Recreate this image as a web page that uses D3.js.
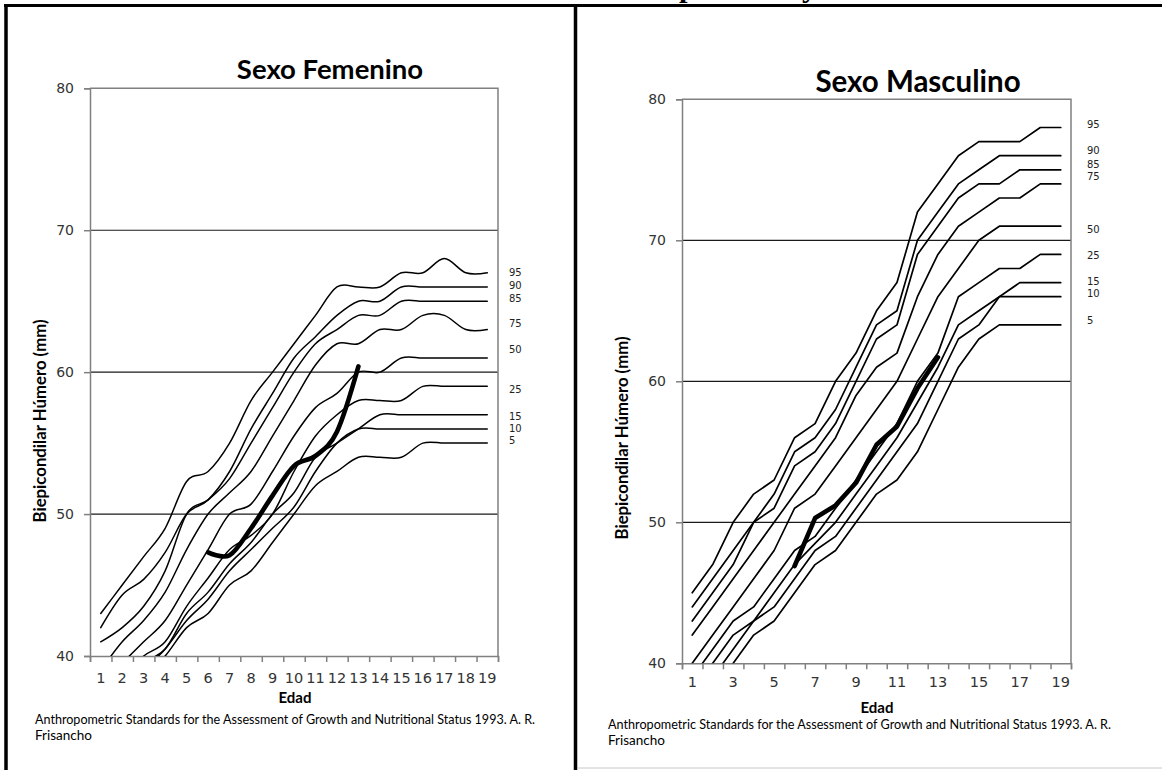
<!DOCTYPE html>
<html>
<head>
<meta charset="utf-8">
<script src="https://cdn.jsdelivr.net/npm/d3@7/dist/d3.min.js"></script>
<style>
html,body{margin:0;padding:0;background:#fff;}
svg{display:block;}
</style>
</head>
<body>
<svg id="chart" width="1162" height="770"></svg>
<script>
// ---------------- DATA ----------------
const ages = [1,2,3,4,5,6,7,8,9,10,11,12,13,14,15,16,17,18,19];
const childAges = [6,7,8,9,10,11,12,13];
const percentileNames = ["95","90","85","75","50","25","15","10","5"];
const yTicks = [40,50,60,70,80];

// Sexo Femenino (mm)
const femP95 = [43,45,47,49,52.3,53,55,58,60,62,64,66,66,66,67,67,68,67,67];
const femP90 = [42,44.3,45.4,47.3,50,51,53,56,58.5,61,62.5,64,65,65,66,66,66,66,66];
const femP85 = [41,42,43.5,46,50,51,52.5,55,57.5,60,62,63,64,64,65,65,65,65,65];
const femP75 = [39,41,42.5,44.5,47.5,50,51.5,53,55.5,58,60.5,62,62,63,63,64,64,63,63];
const femP50 = [38,39.5,41,42.5,45,47.5,50,50.7,53,55.5,57.5,58.5,60,60,61,61,61,61,61];
const femP25 = [37,38.5,40,41,43.5,45.5,47.5,48.5,50,53,55.5,57,58,58,58,59,59,59,59];
const femP15 = [36.5,38,39.5,40.5,43,44.5,46.5,48,50,51.5,54,55,56,57,57,57,57,57,57];
const femP10 = [36,37.5,39,40.5,42.5,44,46,47.5,49,50.5,53,55,56,56,56,56,56,56,56];
const femP5  = [35,36.5,38.5,40,42,43,45,46,48,50,52,53,54,54,54,55,55,55,55];
const femChild = [47.3,47.1,49,51.3,53.4,54.1,55.8,60.4];
const femLabelAt = [67.0,66.1,65.2,63.4,61.6,58.8,56.9,56.0,55.2];

// Sexo Masculino (mm)
const masP95 = [45,47,50,52,53,56,57,60,62,65,67,72,74,76,77,77,77,78,78];
const masP90 = [44,46,48,50,52,55,56,58,61,64,65,70,72,74,75,76,76,76,76];
const masP85 = [43,45,47,50,51,54,55,57,60,63,64,69,71,73,74,74,75,75,75];
const masP75 = [42,44,46,48,50,52,54,56,59,61,62,66,69,71,72,73,73,74,74];
const masP50 = [40,42,44,46,48,51,52,54,56,58,60,63,66,68,70,71,71,71,71];
const masP25 = [39,41,43,44,46,48,49,51,53,55,57,60,62,66,67,68,68,69,69];
const masP15 = [38,40,42,43,45,47,48.5,50,52,54,56,58.5,61,64,65,66,67,67,67];
const masP10 = [37,39,41,43,44,46,48,49,51,53,55,57,60,63,64,66,66,66,66];
const masP5  = [36,38,40,42,43,45,47,48,50,52,53,55,58,61,63,64,64,64,64];
const masChild = [46.9,50.3,51.2,52.8,55.5,56.8,59.5,61.7];
const masLabelAt = [78.2,76.4,75.4,74.5,70.8,68.9,67.1,66.2,64.3];

const femSeries = [femP95,femP90,femP85,femP75,femP50,femP25,femP15,femP10,femP5];
const masSeries = [masP95,masP90,masP85,masP75,masP50,masP25,masP15,masP10,masP5];

const sourceLine1 = "Anthropometric Standards for the Assessment of Growth and Nutritional Status 1993. A. R.";
const sourceLine2 = "Frisancho";
const yTitle = "Biepicondilar Húmero (mm)";
const xTitle = "Edad";
const headerText = "Valores de referencia por edad y sexo";

// ---------------- DRAWING ----------------
const svg = d3.select("#chart");
const SANS = "Lato, 'Open Sans', sans-serif";
const TICKF = "'DejaVu Sans', Verdana, sans-serif";

function drawPanel(cfg) {
  const g = svg.append("g");
  const x = d3.scaleBand().domain(ages).range([cfg.left, cfg.right]);
  const xEdge = d3.scaleLinear().domain([0.5, 19.5]).range([cfg.left, cfg.right]);
  const y = d3.scaleLinear().domain([40, 80]).range([cfg.bottom, cfg.top]);
  const cx = a => x(a) + x.bandwidth() / 2;

  const clipId = "clip-" + cfg.id;
  g.append("clipPath").attr("id", clipId).append("rect")
    .attr("x", cfg.left).attr("y", cfg.top).attr("width", cfg.right - cfg.left).attr("height", cfg.bottom - cfg.top);

  // gridlines
  g.append("g").selectAll("line").data(yTicks.filter(t => t > 40 && t < 80)).join("line")
    .attr("x1", cfg.left).attr("x2", cfg.right)
    .attr("y1", d => y(d)).attr("y2", d => y(d))
    .attr("stroke", "#1a1a1a").attr("stroke-width", 1.2);

  // plot area border (top + right)
  g.append("path")
    .attr("d", `M${cfg.left},${y(80)}H${cfg.right}V${y(40)}`)
    .attr("fill", "none").attr("stroke", "#808080").attr("stroke-width", 1.5);

  // y axis
  const ya = g.append("g").attr("transform", `translate(${cfg.left},0)`)
    .call(d3.axisLeft(y).tickValues(yTicks).tickSize(6).tickPadding(10));
  ya.select(".domain").attr("stroke", "#808080").attr("stroke-width", 1.5);
  ya.selectAll(".tick line").attr("stroke", "#808080").attr("stroke-width", 1.5);
  ya.selectAll(".tick text").attr("font-family", TICKF).attr("font-size", 14).attr("fill", "#333");

  // x axis: tick marks at category edges
  const edges = ages.map(a => a - 0.5).concat([19.5]);
  const xa = g.append("g").attr("transform", `translate(0,${cfg.bottom})`)
    .call(d3.axisBottom(xEdge).tickValues(edges).tickSize(6).tickFormat(""));
  xa.select(".domain").attr("stroke", "#808080").attr("stroke-width", 1.5);
  xa.selectAll(".tick line").attr("stroke", "#808080").attr("stroke-width", 1.5);

  // x labels (centered in categories)
  const xl = g.append("g").attr("transform", `translate(0,${cfg.bottom})`)
    .call(d3.axisBottom(x).tickSize(0).tickPadding(cfg.xLabelPad)
      .tickFormat(d => cfg.showX(d) ? d : ""));
  xl.select(".domain").remove();
  xl.selectAll(".tick text").attr("font-family", TICKF).attr("font-size", 14.5).attr("fill", "#333");

  // percentile curves
  const line = d3.line().x(d => cx(d.a)).y(d => y(d.v)).curve(cfg.curve);
  const lines = g.append("g").attr("clip-path", `url(#${clipId})`);
  lines.selectAll("path.p").data(cfg.series).join("path")
    .attr("class", "p")
    .attr("d", s => line(s.map((v, i) => ({a: ages[i], v}))))
    .attr("fill", "none").attr("stroke", "#000").attr("stroke-width", cfg.thin)
    .attr("stroke-linejoin", "round").attr("stroke-linecap", "round");

  // child curve
  lines.append("path")
    .attr("d", line(cfg.child.map((v, i) => ({a: childAges[i], v}))))
    .attr("fill", "none").attr("stroke", "#000").attr("stroke-width", 4.6)
    .attr("stroke-linejoin", "round").attr("stroke-linecap", "round");

  // percentile labels
  g.append("g").selectAll("text").data(percentileNames).join("text")
    .attr("x", cfg.labelX).attr("y", (d, i) => y(cfg.labelAt[i])).attr("dy", "0.35em")
    .attr("font-family", TICKF).attr("font-size", 10).attr("fill", "#222")
    .text(d => d);

  // titles
  g.append("text").attr("x", cfg.titleX).attr("y", cfg.titleY).attr("text-anchor", "middle")
    .attr("font-family", SANS).attr("font-weight", 700).attr("font-size", cfg.titleSize).attr("fill", "#000")
    .text(cfg.title);
  g.append("text").attr("x", cfg.xTitleX).attr("y", cfg.xTitleY).attr("text-anchor", "middle")
    .attr("font-family", SANS).attr("font-weight", 700).attr("font-size", 15).attr("fill", "#000")
    .text(xTitle);
  g.append("text").attr("transform", `translate(${cfg.yTitleX},${cfg.yTitleY}) rotate(-90)`)
    .attr("text-anchor", "middle").attr("dy", "0.35em")
    .attr("font-family", SANS).attr("font-weight", 700).attr("font-size", 16.5).attr("fill", "#000")
    .attr("textLength", 203).attr("lengthAdjust", "spacingAndGlyphs")
    .text(yTitle);
  // source
  g.append("text").attr("x", cfg.srcX).attr("y", cfg.srcY)
    .attr("font-family", SANS).attr("font-size", 13.5).attr("fill", "#000")
    .attr("textLength", cfg.srcW).attr("lengthAdjust", "spacingAndGlyphs")
    .text(sourceLine1);
  g.append("text").attr("x", cfg.srcX).attr("y", cfg.srcY + 16)
    .attr("font-family", SANS).attr("font-size", 13.5).attr("fill", "#000")
    .text(sourceLine2);
}

drawPanel({
  id: "fem", left: 90, right: 498, top: 88.3, bottom: 656,
  series: femSeries, child: femChild, labelAt: femLabelAt, labelX: 509,
  curve: d3.curveCardinal.tension(0), thin: 1.5,
  showX: d => true, xLabelPad: 17,
  title: "Sexo Femenino", titleX: 330, titleY: 79, titleSize: 27.5,
  xTitleX: 295, xTitleY: 703, yTitleX: 40, yTitleY: 421,
  srcX: 35, srcY: 724, srcW: 500
});

drawPanel({
  id: "mas", left: 682, right: 1071, top: 99.3, bottom: 663.3,
  series: masSeries, child: masChild, labelAt: masLabelAt, labelX: 1087,
  curve: d3.curveLinear, thin: 1.7,
  showX: d => d % 2 === 1, xLabelPad: 13,
  title: "Sexo Masculino", titleX: 918, titleY: 92, titleSize: 29.5,
  xTitleX: 877, xTitleY: 713, yTitleX: 622, yTitleY: 438,
  srcX: 608, srcY: 729, srcW: 503
});

// page header (mostly cut off at the top edge, as in the original page)
const hdr = svg.append("text").attr("y", -3).attr("font-family", "'Liberation Serif', 'DejaVu Serif', serif")
  .attr("font-weight", 700).attr("font-size", 20).attr("fill", "#000").text(headerText);
{
  const node = hdr.node();
  const ip = headerText.indexOf("p"), iy = headerText.indexOf(" y ") + 1;
  const dist = node.getStartPositionOfChar(iy).x - node.getStartPositionOfChar(ip).x;
  const fs = 20 * 123 / dist;
  hdr.attr("font-size", fs);
  const px = node.getStartPositionOfChar(ip).x;
  hdr.attr("x", 679 - px);
}
// page frame
svg.append("line").attr("x1", 4).attr("x2", 1162).attr("y1", 5.5).attr("y2", 5.5).attr("stroke", "#000").attr("stroke-width", 3);
svg.append("line").attr("x1", 6).attr("x2", 6).attr("y1", 4).attr("y2", 770).attr("stroke", "#000").attr("stroke-width", 3.5);
svg.append("line").attr("x1", 575.5).attr("x2", 575.5).attr("y1", 4).attr("y2", 770).attr("stroke", "#000").attr("stroke-width", 3.5);
svg.append("line").attr("x1", 578).attr("x2", 1162).attr("y1", 768).attr("y2", 768).attr("stroke", "#c8c8c8").attr("stroke-width", 1);
</script>
</body>
</html>
